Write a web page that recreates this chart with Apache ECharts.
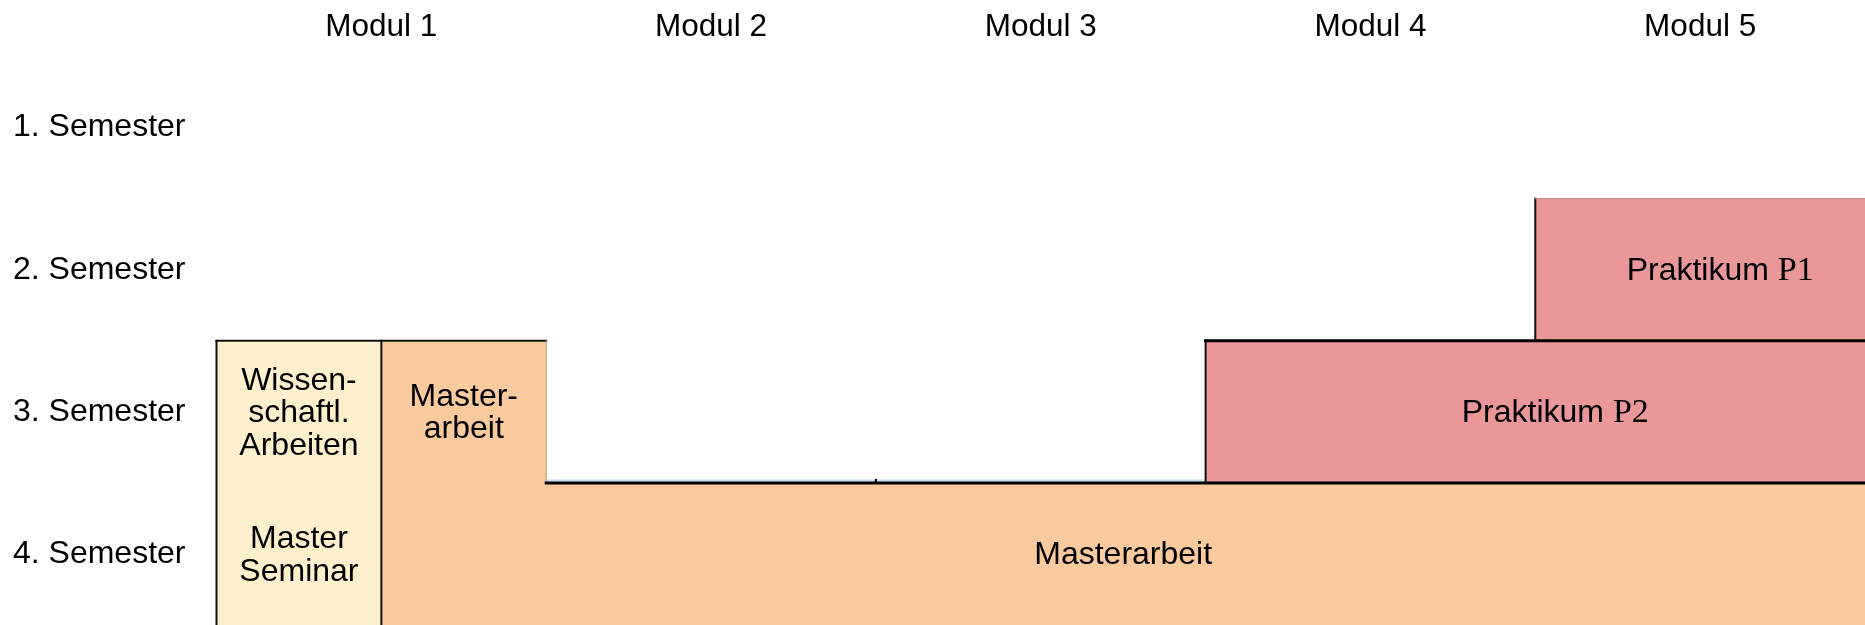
<!DOCTYPE html>
<html>
<head>
<meta charset="utf-8">
<script src="https://cdn.jsdelivr.net/npm/echarts@6/dist/echarts.min.js"></script>
<style>
  html, body { margin: 0; padding: 0; background: #ffffff; }
  #chart { width: 1865px; height: 625px; }
</style>
</head>
<body>
<div id="chart"></div>
<script>
// ---- Data ----
const modules = ['Modul 1', 'Modul 2', 'Modul 3', 'Modul 4', 'Modul 5'];
const semesters = ['1. Semester', '2. Semester', '3. Semester', '4. Semester'];

// Blocks: spans in module units (0..5) and semester units (0..4)
const blockLabels  = ['Wissen-\nschaftl.\nArbeiten', 'Master\nSeminar', 'Master-\narbeit', 'Masterarbeit', 'Praktikum P2', 'Praktikum P1'];
const blockModFrom = [0,   0,   0.5, 0.5, 3, 4];
const blockModTo   = [0.5, 0.5, 1,   5,   5, 5];
const blockSemFrom = [2,   3,   2,   3,   2, 1];
const blockSemTo   = [3,   4,   3,   4,   3, 2];
const blockKind    = ['seminar', 'seminar', 'thesis', 'thesis', 'practical', 'practical'];

// Outline segments (module units, semester units)
const edgeX0 = [1, 0, 0,   0.5, 1, 1, 3, 3, 4, 4, 2];
const edgeY0 = [3, 4, 2,   2,   2, 3, 3, 2, 2, 1, 3];
const edgeX1 = [3, 0, 1,   0.5, 1, 5, 3, 5, 4, 5, 2];
const edgeY1 = [3, 2, 2,   4,   3, 3, 2, 2, 1, 1, 3];
const edgeKind = ['blueAbove', 'dark', 'dark', 'dark', 'soft', 'bold', 'dark', 'bold', 'dark', 'pinkEdge', 'tick'];

// ---- Styles ----
const kindColor = { seminar: '#FFF0CD', thesis: '#F8CA9D', practical: '#E99798' };
const edgeStyle = {
  dark:      { stroke: '#111111', lineWidth: 2, dy: 0 },
  bold:      { stroke: '#000000', lineWidth: 3, dy: 0 },
  soft:      { stroke: '#B99575', lineWidth: 1, dy: 0 },
  pinkEdge:  { stroke: '#C98082', lineWidth: 1, dy: 0 },
  blueAbove: { stroke: '#C5DBEF', lineWidth: 2, dy: -2.5 },
  tick:      { stroke: '#000000', lineWidth: 2, dy: 0, tick: 4 }
};
const FONT = '"Liberation Sans", Arial, sans-serif';
const SERIF = '"Liberation Serif", "Times New Roman", serif';

const blockData = blockLabels.map((_, i) => [blockModFrom[i], blockModTo[i], blockSemFrom[i], blockSemTo[i]]);
const edgeData = edgeX0.map((_, i) => [edgeX0[i], edgeY0[i], edgeX1[i], edgeY1[i]]);

function renderBlock(params, api) {
  const i = params.dataIndex;
  const a = api.coord([api.value(0), api.value(2)]);
  const b = api.coord([api.value(1), api.value(3)]);
  const x = Math.min(a[0], b[0]), y = Math.min(a[1], b[1]);
  const w = Math.abs(b[0] - a[0]), h = Math.abs(b[1] - a[1]);
  const label = blockLabels[i];
  let textEl;
  if (label.indexOf('Praktikum') === 0) {
    const num = label.split(' ')[1];
    textEl = {
      type: 'text',
      x: x + w / 2 + 20, y: y + h / 2 + 1.5,
      style: {
        text: '{a|Praktikum }{b|' + num + '}',
        align: 'center', verticalAlign: 'middle',
        rich: {
          a: { fontFamily: FONT, fontSize: 32, fill: '#000' },
          b: { fontFamily: SERIF, fontSize: 34, fill: '#000' }
        }
      }
    };
  } else {
    textEl = {
      type: 'text',
      x: x + w / 2, y: y + h / 2 + 1.5,
      style: {
        text: label, align: 'center', verticalAlign: 'middle',
        fontFamily: FONT, fontSize: 32, lineHeight: 32.5, fill: '#000'
      }
    };
  }
  return {
    type: 'group',
    children: [
      { type: 'rect', shape: { x: x, y: y, width: w, height: h }, style: { fill: kindColor[blockKind[i]] } },
      textEl
    ]
  };
}

function renderEdge(params, api) {
  const i = params.dataIndex;
  const a = api.coord([api.value(0), api.value(1)]);
  const b = api.coord([api.value(2), api.value(3)]);
  const st = edgeStyle[edgeKind[i]];
  if (st.tick) {
    return {
      type: 'line',
      shape: { x1: a[0], y1: a[1] - st.tick, x2: a[0], y2: a[1] + 1 },
      style: { stroke: st.stroke, lineWidth: st.lineWidth }
    };
  }
  return {
    type: 'line',
    shape: { x1: a[0], y1: a[1] + st.dy, x2: b[0], y2: b[1] + st.dy },
    style: { stroke: st.stroke, lineWidth: st.lineWidth, lineCap: 'square' }
  };
}

const chart = echarts.init(document.getElementById('chart'), null, { renderer: 'canvas' });
chart.setOption({
  backgroundColor: '#ffffff',
  animation: false,
  grid: { left: 216.5, top: 56.5, width: 1653.5, height: 571.4 },
  xAxis: [
    { type: 'value', min: 0, max: 5, show: false },
    {
      type: 'category', data: modules, position: 'top', gridIndex: 0,
      axisLine: { show: false }, axisTick: { show: false }, splitLine: { show: false },
      axisLabel: { fontFamily: FONT, fontSize: 31.5, color: '#000', margin: 13 }
    }
  ],
  yAxis: [
    { type: 'value', min: 0, max: 4, inverse: true, show: false },
    {
      type: 'category', data: semesters, inverse: true, position: 'left', gridIndex: 0,
      axisLine: { show: false }, axisTick: { show: false }, splitLine: { show: false },
      axisLabel: { fontFamily: FONT, fontSize: 32, color: '#000', margin: 31, padding: [3, 0, 0, 0] }
    }
  ],
  series: [
    {
      type: 'custom', xAxisIndex: 0, yAxisIndex: 0, clip: false,
      renderItem: renderBlock, data: blockData, silent: true
    },
    {
      type: 'custom', xAxisIndex: 0, yAxisIndex: 0, clip: false,
      renderItem: renderEdge, data: edgeData, silent: true
    }
  ]
});
</script>
</body>
</html>
